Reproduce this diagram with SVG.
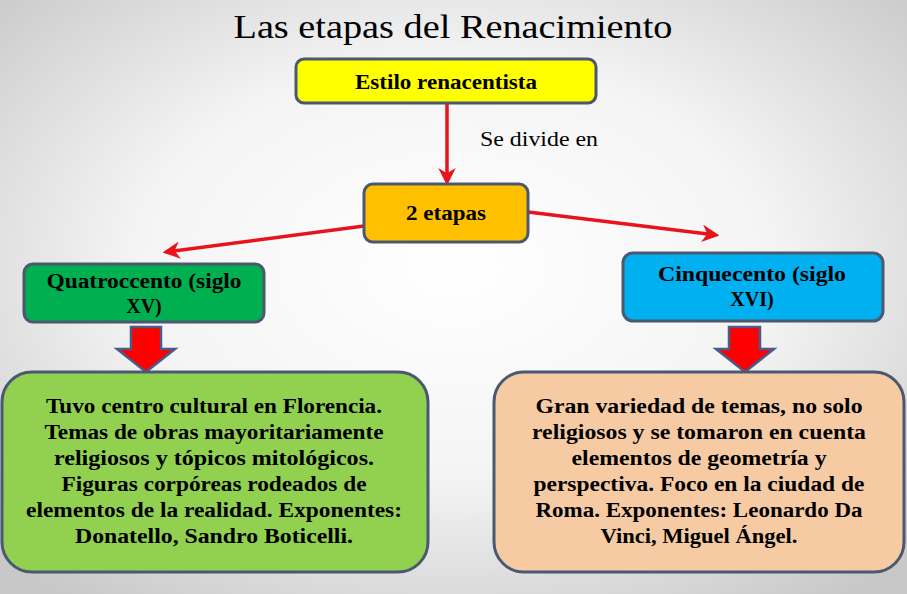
<svg xmlns="http://www.w3.org/2000/svg" width="907" height="594" viewBox="0 0 907 594">
<defs>
<radialGradient id="bg" cx="50%" cy="45%" r="70%">
<stop offset="0" stop-color="#ffffff"/>
<stop offset="0.5" stop-color="#f4f4f4"/>
<stop offset="1" stop-color="#c8c8c8"/>
</radialGradient>
<marker id="ah" viewBox="0 0 10 10" refX="8" refY="5" markerWidth="5" markerHeight="5" orient="auto" markerUnits="strokeWidth">
<path d="M0,0 L10,5 L0,10 L3,5 Z" fill="#e8141c"/>
</marker>
<style>
.box{stroke:#4a5870;stroke-width:3}
.t{font-family:"Liberation Serif","Times New Roman",serif;font-weight:bold;font-size:20px;fill:#000;text-anchor:middle}
.n{font-family:"Liberation Serif","Times New Roman",serif;fill:#000}
.con{stroke:#e8141c;stroke-width:3.5;fill:none;marker-end:url(#ah)}
.blk{fill:#ff0000;stroke:#4a5a8a;stroke-width:2.5}
</style>
</defs>
<rect width="907" height="594" fill="url(#bg)"/>
<text class="n" x="453" y="38" font-size="34" text-anchor="middle" textLength="439" lengthAdjust="spacingAndGlyphs">Las etapas del Renacimiento</text>

<g id="connectors">
<line class="con" x1="447" y1="104" x2="447" y2="182"/>
<line class="con" x1="364" y1="226" x2="166" y2="252"/>
<line class="con" x1="528" y1="212" x2="716" y2="235"/>
<text class="n" x="480" y="146" font-size="20" textLength="118" lengthAdjust="spacingAndGlyphs">Se divide en</text>
<path class="blk" d="M131,327 H161 V349 H175 L146,372 L117,349 H131 Z"/>
<path class="blk" d="M729,327 H760 V349 H774 L745,372 L716,349 H729 Z"/>
</g>

<g id="estilo">
<rect class="box" x="296" y="59" width="300" height="44" rx="8" fill="#ffff00"/>
<text class="t" x="446" y="89" textLength="182" lengthAdjust="spacingAndGlyphs">Estilo renacentista</text>
</g>

<g id="etapas">
<rect class="box" x="364" y="184" width="164" height="58" rx="9" fill="#ffc000"/>
<text class="t" x="446" y="220" textLength="80" lengthAdjust="spacingAndGlyphs">2 etapas</text>
</g>

<g id="quatroccento">
<rect class="box" x="24" y="264" width="240" height="58" rx="9" fill="#00b050"/>
<text class="t" x="144" y="288" textLength="195" lengthAdjust="spacingAndGlyphs">Quatroccento (siglo</text>
<text class="t" x="144" y="313">XV)</text>
</g>

<g id="cinquecento">
<rect class="box" x="623" y="253" width="260" height="68" rx="10" fill="#00b0f0"/>
<text class="t" x="752" y="281" textLength="188" lengthAdjust="spacingAndGlyphs">Cinquecento (siglo</text>
<text class="t" x="752" y="306">XVI)</text>
</g>

<g id="quatroccento-desc">
<rect class="box" x="2" y="372" width="426" height="200" rx="30" fill="#92d050"/>
<text class="t" x="214" y="413" textLength="336" lengthAdjust="spacingAndGlyphs">Tuvo centro cultural en Florencia.</text>
<text class="t" x="214" y="439" textLength="339" lengthAdjust="spacingAndGlyphs">Temas de obras mayoritariamente</text>
<text class="t" x="214" y="465" textLength="320" lengthAdjust="spacingAndGlyphs">religiosos y tópicos mitológicos.</text>
<text class="t" x="214" y="491" textLength="305" lengthAdjust="spacingAndGlyphs">Figuras corpóreas rodeados de</text>
<text class="t" x="214" y="517" textLength="376" lengthAdjust="spacingAndGlyphs">elementos de la realidad. Exponentes:</text>
<text class="t" x="214" y="543" textLength="278" lengthAdjust="spacingAndGlyphs">Donatello, Sandro Boticelli.</text>
</g>

<g id="cinquecento-desc">
<rect class="box" x="494" y="372" width="410" height="200" rx="30" fill="#f6cba4"/>
<text class="t" x="699" y="413" textLength="327" lengthAdjust="spacingAndGlyphs">Gran variedad de  temas, no solo</text>
<text class="t" x="699" y="439" textLength="334" lengthAdjust="spacingAndGlyphs">religiosos y se tomaron en cuenta</text>
<text class="t" x="699" y="465" textLength="255" lengthAdjust="spacingAndGlyphs">elementos de geometría y</text>
<text class="t" x="699" y="491" textLength="331" lengthAdjust="spacingAndGlyphs">perspectiva. Foco en la ciudad de</text>
<text class="t" x="699" y="517" textLength="327" lengthAdjust="spacingAndGlyphs">Roma. Exponentes: Leonardo Da</text>
<text class="t" x="699" y="543" textLength="197" lengthAdjust="spacingAndGlyphs">Vinci, Miguel Ángel.</text>
</g>
</svg>
